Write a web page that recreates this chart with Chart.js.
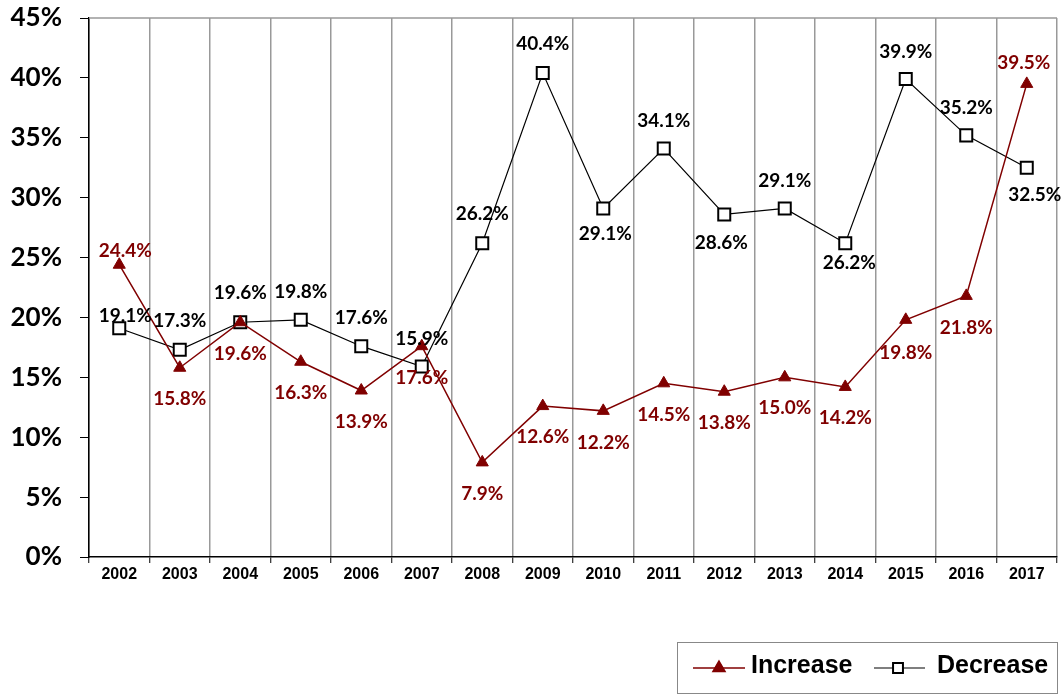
<!DOCTYPE html>
<html>
<head>
<meta charset="utf-8">
<script src="https://cdn.jsdelivr.net/npm/chart.js@4.4.1/dist/chart.umd.min.js"></script>
<style>
  html, body { margin: 0; padding: 0; background: #fff; }
  #chart { display: block; }
</style>
</head>
<body>
<canvas id="chart" width="1064" height="694"></canvas>
<script>
// ==================== DATA ====================
var years = ['2002', '2003', '2004', '2005', '2006', '2007', '2008', '2009',
             '2010', '2011', '2012', '2013', '2014', '2015', '2016', '2017'];
var increase = [24.4, 15.8, 19.6, 16.3, 13.9, 17.6, 7.9, 12.6,
                12.2, 14.5, 13.8, 15.0, 14.2, 19.8, 21.8, 39.5];
var decrease = [19.1, 17.3, 19.6, 19.8, 17.6, 15.9, 26.2, 40.4,
                29.1, 34.1, 28.6, 29.1, 26.2, 39.9, 35.2, 32.5];
var yTicks = [0, 5, 10, 15, 20, 25, 30, 35, 40, 45];

// where each value label sits relative to its point (px)
var incLabelPos = [[6, -14], [0, 31], [0, 32], [0, 31], [0, 31], [0, 32], [0, 31], [0, 31],
                   [0, 32], [0, 32], [0, 31], [0, 31], [0, 31], [0, 33], [0, 32], [-3, -21]];
var decLabelPos = [[6, -12], [0, -29], [0, -29], [0, -28], [0, -28], [0, -28], [0, -29], [0, -29],
                   [2, 25], [0, -28], [-3, 28], [0, -28], [4, 20], [0, -27], [0, -28], [8, 27]];

var RED = '#800000';
var labelFont = 'bold 19px Lato, "Open Sans", sans-serif';

// ==================== PLUGINS ====================
var topBorder = {
  id: 'topBorder',
  afterDraw: function (chart) {
    var a = chart.chartArea, ctx = chart.ctx;
    ctx.save();
    ctx.strokeStyle = '#999';
    ctx.lineWidth = 1.5;
    ctx.beginPath();
    ctx.moveTo(a.left, a.top);
    ctx.lineTo(a.right, a.top);
    ctx.stroke();
    ctx.restore();
  }
};

var valueLabels = {
  id: 'valueLabels',
  afterDatasetsDraw: function (chart) {
    var ctx = chart.ctx;
    var positions = [incLabelPos, decLabelPos];
    var colors = [RED, '#000'];
    ctx.save();
    ctx.font = labelFont;
    ctx.textAlign = 'center';
    ctx.textBaseline = 'middle';
    chart.data.datasets.forEach(function (ds, di) {
      var meta = chart.getDatasetMeta(di);
      ctx.fillStyle = colors[di];
      meta.data.forEach(function (pt, i) {
        var off = positions[di][i];
        ctx.fillText(ds.data[i].toFixed(1) + '%', pt.x + off[0], pt.y + off[1]);
      });
    });
    ctx.restore();
  }
};

var boxLegend = {
  id: 'boxLegend',
  afterDraw: function (chart) {
    var ctx = chart.ctx;
    var right = chart.chartArea.right;
    var bottom = chart.height - 1;
    var left = right - 380, top = bottom - 51;
    var cy = top + 26;
    ctx.save();
    ctx.strokeStyle = '#888';
    ctx.lineWidth = 1;
    ctx.strokeRect(left + 0.5, top + 0.5, right - left, bottom - top);

    ctx.font = 'bold 25px "Liberation Sans", Arial, sans-serif';
    ctx.textBaseline = 'middle';
    ctx.textAlign = 'left';

    // Increase
    var x0 = left + 16;
    ctx.strokeStyle = RED;
    ctx.lineWidth = 1.5;
    ctx.beginPath(); ctx.moveTo(x0, cy); ctx.lineTo(x0 + 52, cy); ctx.stroke();
    ctx.fillStyle = RED;
    Chart.helpers.drawPoint(ctx, { pointStyle: 'triangle', radius: 7, borderWidth: 1 }, x0 + 26, cy);
    ctx.fill();
    ctx.fillStyle = '#000';
    ctx.fillText('Increase', x0 + 58, cy - 2);

    // Decrease
    var x1 = left + 197;
    ctx.strokeStyle = '#000';
    ctx.lineWidth = 1.2;
    ctx.beginPath(); ctx.moveTo(x1, cy); ctx.lineTo(x1 + 51, cy); ctx.stroke();
    ctx.fillStyle = '#fff';
    ctx.lineWidth = 2;
    Chart.helpers.drawPoint(ctx, { pointStyle: 'rect', radius: 7, borderWidth: 2 }, x1 + 24, cy);
    ctx.fillStyle = '#000';
    ctx.fillText('Decrease', x1 + 63, cy - 2);
    ctx.restore();
  }
};

// ==================== CHART ====================
var ctx = document.getElementById('chart').getContext('2d');
var chart = new Chart(ctx, {
  type: 'line',
  data: {
    labels: years,
    datasets: [
      {
        label: 'Increase',
        data: increase,
        borderColor: RED,
        borderWidth: 1.5,
        pointStyle: 'triangle',
        pointRadius: 7,
        pointBackgroundColor: RED,
        pointBorderColor: RED,
        pointBorderWidth: 1,
        tension: 0
      },
      {
        label: 'Decrease',
        data: decrease,
        borderColor: '#000',
        borderWidth: 1.2,
        pointStyle: 'rect',
        pointRadius: 8.5,
        pointBackgroundColor: '#fff',
        pointBorderColor: '#000',
        pointBorderWidth: 2,
        tension: 0
      }
    ]
  },
  options: {
    responsive: false,
    devicePixelRatio: 1,
    animation: false,
    layout: { autoPadding: false, padding: { top: 18, right: 7, bottom: 97, left: 0 } },
    plugins: {
      legend: { display: false },
      tooltip: { enabled: false }
    },
    scales: {
      x: {
        offset: true,
        afterFit: function (s) { s.height = 40; },
        grid: {
          offset: true,
          color: '#999',
          lineWidth: 1.5,
          tickLength: 6,
          tickColor: '#000',
          tickWidth: 1
        },
        border: { color: '#000', width: 1.5 },
        ticks: {
          color: '#000',
          padding: 2,
          maxRotation: 0,
          font: { family: '"Liberation Sans", Arial, sans-serif', size: 16, weight: 'bold' }
        }
      },
      y: {
        min: 0,
        max: 45,
        afterFit: function (s) {
          s.width = 89;
          s.paddingTop = 0;
          s.paddingBottom = 0;
        },
        afterBuildTicks: function (s) {
          s.ticks = yTicks.map(function (v) { return { value: v }; });
        },
        grid: {
          drawOnChartArea: false,
          tickLength: 9,
          tickColor: '#000',
          tickWidth: 1
        },
        border: { color: '#000', width: 1.5 },
        ticks: {
          color: '#000',
          padding: 18,
          callback: function (v) { return v + '%'; },
          font: { family: 'Lato, "Open Sans", sans-serif', size: 26, weight: 'bold' }
        }
      }
    }
  },
  plugins: [topBorder, valueLabels, boxLegend]
});
</script>
</body>
</html>
